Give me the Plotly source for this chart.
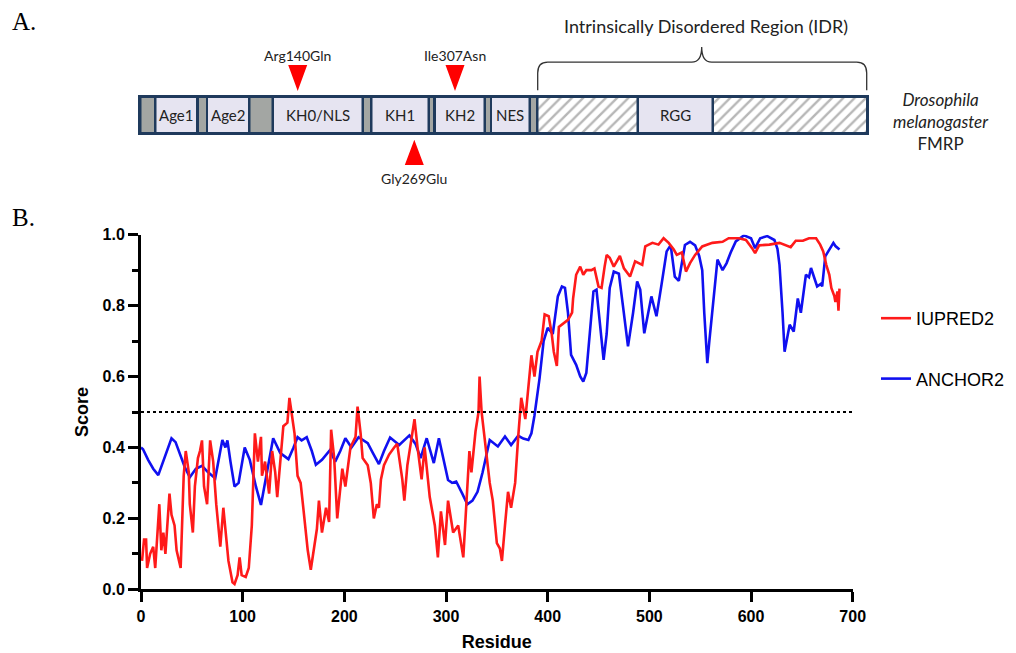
import plotly.graph_objects as go

# ---------------- data: panel B ----------------
iupred_res = [1, 3, 5, 6, 9, 12, 14, 18, 20, 22, 24, 28, 30, 33, 35, 39, 42, 44, 47, 48,
              51, 53, 56, 58, 60, 62, 65, 68, 71, 74, 78, 81, 83, 86, 90, 92, 95, 97, 99, 103,
              106, 109, 112, 115, 118, 119, 122, 126, 129, 132, 134, 137, 140, 144, 146, 148, 151, 154, 157, 160,
              164, 167, 170, 173, 175, 178, 182, 185, 187, 190, 193, 198, 201, 206, 211, 213, 216, 218, 223, 226,
              229, 232, 234, 236, 239, 244, 249, 252, 257, 259, 262, 266, 269, 272, 276, 279, 282, 284, 289, 292,
              295, 299, 302, 307, 312, 317, 320, 323, 325, 329, 332, 333, 335, 338, 343, 346, 350, 353, 355, 358,
              361, 364, 368, 371, 374, 378, 381, 384, 387, 390, 394, 397, 401, 404, 406, 409, 411, 415, 420, 424,
              425, 428, 432, 435, 438, 443, 446, 450, 453, 456, 458, 461, 465, 471, 475, 481, 486, 493, 496, 503,
              509, 514, 519, 524, 527, 532, 536, 540, 545, 552, 562, 572, 578, 588, 595, 601, 604, 608, 618, 628,
              634, 639, 644, 651, 657, 664, 668, 671, 674, 677, 679, 682, 683, 685, 686, 687]
iupred_score = [0.08, 0.14, 0.14, 0.06, 0.10, 0.12, 0.06, 0.24, 0.11, 0.16, 0.10, 0.27, 0.21, 0.18, 0.11, 0.06, 0.32, 0.39, 0.33, 0.24,
                0.16, 0.29, 0.37, 0.39, 0.42, 0.29, 0.24, 0.42, 0.36, 0.24, 0.12, 0.23, 0.17, 0.08, 0.02, 0.015, 0.04, 0.09, 0.04, 0.035,
                0.06, 0.18, 0.44, 0.36, 0.43, 0.32, 0.36, 0.27, 0.39, 0.33, 0.26, 0.36, 0.46, 0.47, 0.54, 0.50, 0.44, 0.32, 0.30, 0.22,
                0.11, 0.055, 0.12, 0.17, 0.25, 0.16, 0.23, 0.19, 0.45, 0.37, 0.20, 0.34, 0.29, 0.40, 0.43, 0.515, 0.44, 0.37, 0.35, 0.30,
                0.20, 0.24, 0.23, 0.31, 0.35, 0.38, 0.40, 0.41, 0.31, 0.25, 0.35, 0.43, 0.48, 0.40, 0.31, 0.40, 0.31, 0.26, 0.18, 0.09,
                0.22, 0.125, 0.25, 0.16, 0.18, 0.09, 0.24, 0.39, 0.33, 0.445, 0.50, 0.60, 0.50, 0.43, 0.30, 0.25, 0.13, 0.115, 0.08, 0.18,
                0.275, 0.23, 0.30, 0.43, 0.54, 0.48, 0.57, 0.66, 0.60, 0.67, 0.70, 0.775, 0.77, 0.72, 0.67, 0.63, 0.74, 0.75, 0.76, 0.78,
                0.82, 0.887, 0.91, 0.887, 0.90, 0.90, 0.905, 0.854, 0.85, 0.91, 0.943, 0.935, 0.91, 0.94, 0.905, 0.882, 0.925, 0.915, 0.967, 0.977,
                0.972, 0.99, 0.977, 0.958, 0.943, 0.95, 0.896, 0.92, 0.943, 0.967, 0.977, 0.98, 0.99, 0.99, 0.985, 0.962, 0.948, 0.97, 0.972, 0.977,
                0.97, 0.965, 0.983, 0.983, 0.99, 0.99, 0.972, 0.953, 0.915, 0.887, 0.85, 0.826, 0.81, 0.84, 0.786, 0.848]

anchor_res = [0, 2, 7, 12, 17, 23, 30, 34, 38, 43, 48, 54, 60, 66, 73, 77, 80, 83, 85, 88,
              92, 96, 102, 107, 113, 118, 124, 130, 137, 145, 150, 154, 158, 163, 168, 172, 178, 186, 191, 196,
              201, 207, 214, 223, 228, 234, 239, 245, 254, 264, 270, 275, 281, 288, 293, 297, 302, 306, 310, 316,
              321, 326, 331, 336, 343, 351, 358, 364, 371, 376, 381, 384, 387, 392, 396, 400, 405, 410, 414, 417,
              420, 423, 428, 432, 435, 438, 441, 445, 448, 451, 455, 458, 461, 465, 470, 474, 479, 484, 488, 491,
              495, 502, 507, 512, 517, 521, 525, 529, 535, 540, 545, 549, 552, 554, 557, 559, 562, 567, 572, 576,
              580, 585, 593, 600, 604, 609, 616, 623, 626, 628, 631, 633, 638, 642, 646, 649, 654, 657, 659, 663,
              665, 669, 670, 673, 677, 681, 683, 687]
anchor_score = [0.40, 0.395, 0.365, 0.34, 0.322, 0.37, 0.426, 0.415, 0.384, 0.345, 0.316, 0.34, 0.348, 0.33, 0.313, 0.37, 0.421, 0.40, 0.42, 0.36,
                0.29, 0.30, 0.40, 0.365, 0.29, 0.238, 0.337, 0.426, 0.384, 0.367, 0.40, 0.429, 0.42, 0.429, 0.39, 0.351, 0.365, 0.393, 0.36, 0.39,
                0.426, 0.40, 0.429, 0.412, 0.385, 0.353, 0.39, 0.428, 0.407, 0.434, 0.41, 0.37, 0.426, 0.356, 0.426, 0.37, 0.308, 0.30, 0.304, 0.27,
                0.24, 0.25, 0.275, 0.33, 0.421, 0.403, 0.431, 0.407, 0.433, 0.425, 0.421, 0.44, 0.49, 0.595, 0.70, 0.737, 0.72, 0.826, 0.854, 0.85,
                0.779, 0.661, 0.633, 0.60, 0.586, 0.61, 0.72, 0.84, 0.845, 0.76, 0.647, 0.72, 0.85, 0.896, 0.89, 0.80, 0.685, 0.78, 0.868, 0.845,
                0.722, 0.826, 0.77, 0.86, 0.953, 0.97, 0.882, 0.87, 0.971, 0.98, 0.97, 0.94, 0.90, 0.78, 0.638, 0.70, 0.78, 0.93, 0.90, 0.92,
                0.95, 0.981, 0.998, 0.99, 0.962, 0.99, 0.996, 0.985, 0.96, 0.915, 0.78, 0.67, 0.746, 0.727, 0.82, 0.78, 0.887, 0.88, 0.906, 0.87,
                0.854, 0.862, 0.854, 0.939, 0.958, 0.977, 0.968, 0.958]

threshold = 0.5
x_ticks = [0, 100, 200, 300, 400, 500, 600, 700]
y_ticks = [0.0, 0.2, 0.4, 0.6, 0.8, 1.0]
y_minor_ticks = [0.1, 0.3, 0.5, 0.7, 0.9]

# ---------------- data: panel A (diagram units along the bar) ----------------
bar_length = 731
seg_labels = ["", "Age1", "", "Age2", "", "KH0/NLS", "", "KH1", "", "KH2", "", "NES", "", "", "RGG", ""]
seg_start = [3.5, 18.5, 61, 70, 112.5, 136, 226, 234.5, 292, 298, 348, 354, 393, 400.5, 501, 576]
seg_end = [16, 58, 68, 110, 133.5, 223.5, 232, 289.5, 295, 345.5, 352, 390.5, 398, 498.5, 573.5, 728]
seg_kind = ["gray", "box", "gray", "box", "gray", "box", "gray", "box", "gray", "box", "gray", "box", "gray", "hatch", "box", "hatch"]

mut_labels = ["Arg140Gln", "Gly269Glu", "Ile307Asn"]
mut_pos = [159.7, 276.3, 317.0]
mut_side = ["top", "bottom", "top"]

idr_start, idr_end, idr_mid = 399.7, 728.7, 563.7

NAVY = "#1f3a5c"
LAV = "#e6e4f1"
GRAY = "#a3a6a3"
RED = "#ff1a1a"
BLUE = "#1010f0"

fig = go.Figure()

# ---- Panel A: domain bars ----
for kind, color in [("gray", GRAY), ("box", LAV), ("hatch", "white")]:
    idx = [i for i, k in enumerate(seg_kind) if k == kind]
    marker = dict(color=color, line=dict(width=0))
    if kind == "hatch":
        marker["pattern"] = dict(shape="/", fgcolor="#6f6f6f", bgcolor="white", size=8, solidity=0.3)
    fig.add_trace(go.Bar(
        x=[seg_end[i] - seg_start[i] for i in idx], base=[seg_start[i] for i in idx],
        y=[0.5] * len(idx), width=0.85, orientation="h", marker=marker,
        xaxis="x2", yaxis="y2", showlegend=False, hoverinfo="skip"))

# domain labels
for lab, s, e in zip(seg_labels, seg_start, seg_end):
    if lab:
        fig.add_annotation(x=(s + e) / 2, y=0.5, xref="x2", yref="y2", text=lab, showarrow=False,
                           xanchor="center", yanchor="middle",
                           font=dict(family="Lato", size=15, color="#222"))

# mutation triangles
tx, ty = [], []
half_w = 9.5
for p, side in zip(mut_pos, mut_side):
    if side == "top":
        tx += [p - half_w, p + half_w, p, p - half_w, None]
        ty += [1.75, 1.75, 1.1, 1.75, None]
    else:
        tx += [p - half_w, p + half_w, p, p - half_w, None]
        ty += [-0.75, -0.75, -0.12, -0.75, None]
fig.add_trace(go.Scatter(x=tx, y=ty, xaxis="x2", yaxis="y2", fill="toself", fillcolor="#ff0000",
                         mode="lines", line=dict(width=0, color="#ff0000"), showlegend=False, hoverinfo="skip"))
for lab, p, side in zip(mut_labels, mut_pos, mut_side):
    fig.add_annotation(x=p, y=2.0 if side == "top" else -1.08, xref="x2", yref="y2", text=lab,
                       xanchor="center", yanchor="middle",
                       showarrow=False, font=dict(family="Lato", size=14, color="#222"))

# navy bar background
fig.add_shape(type="rect", xref="x2", yref="y2", x0=0, x1=bar_length, y0=0, y1=1,
              fillcolor=NAVY, line=dict(width=0), layer="below")

# IDR brace
r = 10
brace = (f"M {idr_start},1.12 L {idr_start},1.55 Q {idr_start},1.82 {idr_start + r},1.82 "
         f"L {idr_mid - r},1.82 Q {idr_mid},1.82 {idr_mid},2.2 Q {idr_mid},1.82 {idr_mid + r},1.82 "
         f"L {idr_end - r},1.82 Q {idr_end},1.82 {idr_end},1.55 L {idr_end},1.12")
fig.add_shape(type="path", path=brace, xref="x2", yref="y2", line=dict(color="#333", width=1.3))
fig.add_annotation(x=idr_mid + 4, y=2.72, xref="x2", yref="y2", text="Intrinsically Disordered Region (IDR)",
                   xanchor="center", yanchor="middle",
                   showarrow=False, font=dict(family="Lato", size=18, color="#222"))

fig.add_annotation(x=941 / 1016, y=(653 - 121) / 653, xref="paper", yref="paper",
                   xanchor="center", yanchor="middle",
                   text="<i>Drosophila</i><br><i>melanogaster</i><br>FMRP", showarrow=False,
                   font=dict(family="Lato", size=17, color="#222"), align="center")

# panel letters
fig.add_annotation(x=10 / 1016, y=(653 - 22) / 653, xref="paper", yref="paper", text="A.", showarrow=False,
                   xanchor="left", yanchor="middle", font=dict(family="Liberation Serif", size=25, color="black"))
fig.add_annotation(x=10 / 1016, y=(653 - 217) / 653, xref="paper", yref="paper", text="B.", showarrow=False,
                   xanchor="left", yanchor="middle", font=dict(family="Liberation Serif", size=25, color="black"))

# ---- Panel B: lines ----
fig.add_trace(go.Scatter(x=anchor_res, y=anchor_score, mode="lines", name="ANCHOR2",
                         line=dict(color=BLUE, width=2.6), legendgroup="b", legendrank=2))
fig.add_trace(go.Scatter(x=iupred_res, y=iupred_score, mode="lines", name="IUPRED2",
                         line=dict(color=RED, width=2.6), legendgroup="a", legendrank=1))

fig.add_shape(type="line", xref="x", yref="y", x0=0, x1=700, y0=threshold, y1=threshold,
              line=dict(color="black", width=2, dash="dot"))

bold = dict(family="Liberation Sans", size=16, color="black", weight="bold")
fig.update_layout(
    width=1016, height=653, margin=dict(l=0, r=0, t=0, b=0, autoexpand=False),
    plot_bgcolor="white", paper_bgcolor="white", barmode="overlay", hovermode=False,
    xaxis=dict(domain=[141 / 1016, 852.7 / 1016], range=[0, 700], tickvals=x_ticks,
               showline=True, linewidth=3, linecolor="black", ticks="outside", ticklen=10, tickwidth=3,
               tickcolor="black", tickfont=bold, showgrid=False, zeroline=False, automargin=False,
               title=dict(text="Residue", font=dict(family="Liberation Sans", size=18, color="black", weight="bold"),
                          standoff=12)),
    yaxis=dict(domain=[(653 - 589.3) / 653, (653 - 234.7) / 653], range=[0, 1], tickvals=y_ticks,
               tickformat=".1f", showline=True, linewidth=3, linecolor="black", ticks="outside", ticklen=10,
               tickwidth=3, tickcolor="black", tickfont=bold, showgrid=False, zeroline=False, automargin=False,
               minor=dict(tickvals=y_minor_ticks, ticks="outside", ticklen=6, tickwidth=3, tickcolor="black",
                          showgrid=False),
               title=dict(text="Score", font=dict(family="Liberation Sans", size=18, color="black", weight="bold"),
                          standoff=10)),
    xaxis2=dict(domain=[138 / 1016, 869 / 1016], range=[0, bar_length], visible=False, anchor="y2"),
    yaxis2=dict(domain=[(653 - 190) / 653, 1], range=[-1.375, 3.375], visible=False, anchor="x2"),
    legend=dict(x=876 / 1016, y=(653 - 300) / 653, xanchor="left", yanchor="top",
                font=dict(family="Liberation Sans", size=18, color="black"), tracegroupgap=34,
                bgcolor="rgba(0,0,0,0)", itemwidth=30),
)

fig.write_html("out.html")
